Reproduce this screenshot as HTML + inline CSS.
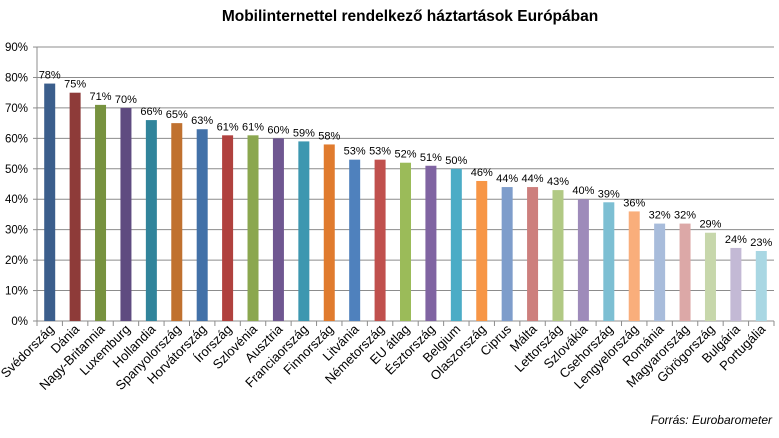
<!DOCTYPE html>
<html><head><meta charset="utf-8"><style>
body{margin:0;background:#fff;width:779px;height:438px;overflow:hidden}
svg{display:block;font-family:"Liberation Sans",sans-serif}
</style></head><body>
<svg id="s" width="779" height="438" xmlns="http://www.w3.org/2000/svg">
<text x="410" y="21" text-anchor="middle" font-size="15.5" font-weight="bold" fill="#000">Mobilinternettel rendelkező háztartások Európában</text>
<g id="g"></g>
<text x="772" y="424" text-anchor="end" font-size="12" font-style="italic" fill="#000">Forrás: Eurobarometer</text>
</svg>
<script>
var d=[["Svédország",78,"#3B5E8C"],["Dánia",75,"#8E3B39"],["Nagy-Britannia",71,"#77923F"],["Luxemburg",70,"#5F4B80"],["Hollandia",66,"#31849B"],["Spanyolország",65,"#C0712F"],["Horvátország",63,"#4271A8"],["Írország",61,"#B0413E"],["Szlovénia",61,"#8BA74F"],["Ausztria",60,"#6F5791"],["Franciaország",59,"#3D97B0"],["Finnország",58,"#E07B2E"],["Litvánia",53,"#4F81BD"],["Németország",53,"#C0504D"],["EU átlag",52,"#9BBB59"],["Észtország",51,"#8064A2"],["Belgium",50,"#4BACC6"],["Olaszország",46,"#F79646"],["Ciprus",44,"#7E9DCB"],["Málta",44,"#CD7F7D"],["Lettország",43,"#B1C984"],["Szlovákia",40,"#9E8BBA"],["Csehország",39,"#7DBFD3"],["Lengyelország",36,"#F9AE7B"],["Románia",32,"#A8BCDB"],["Magyarország",32,"#DCA8A7"],["Görögország",29,"#C7D7AB"],["Bulgária",24,"#C3B9D5"],["Portugália",23,"#A9D7E3"]];
var h='',L=37,R=774,Y0=321,k=30.44,w=(R-L)/29;
for(var i=0;i<=9;i++){var y=Y0-i*k;h+='<line x1="'+(i?L:L-4)+'" x2="'+R+'" y1="'+y+'" y2="'+y+'" stroke="#8c8c8c" stroke-width="1"/>';h+='<line x1="'+(L-4)+'" x2="'+L+'" y1="'+y+'" y2="'+y+'" stroke="#8c8c8c"/>';h+='<text x="28" y="'+(y+4)+'" text-anchor="end" font-size="11.5">'+i*10+'%</text>';}
h+='<line x1="'+L+'" x2="'+L+'" y1="'+(Y0-9*k)+'" y2="'+Y0+'" stroke="#8c8c8c"/>';
for(var i=0;i<=29;i++){var x=L+i*w;h+='<line x1="'+x+'" x2="'+x+'" y1="'+Y0+'" y2="'+(Y0+5)+'" stroke="#8c8c8c"/>';}
d.forEach(function(e,i){var c=L+(i+0.5)*w,t=Y0-e[1]*k/10;h+='<rect x="'+(c-5.5)+'" y="'+t+'" width="11" height="'+(Y0-t)+'" fill="'+e[2]+'"/>';h+='<text x="'+c+'" y="'+(t-5)+'" text-anchor="middle" font-size="11">'+e[1]+'%</text>';h+='<text transform="translate('+(c+5)+','+(Y0+9)+') rotate(-45)" text-anchor="end" font-size="13">'+e[0]+'</text>';});
document.getElementById('g').innerHTML=h;
</script>
</body></html>
